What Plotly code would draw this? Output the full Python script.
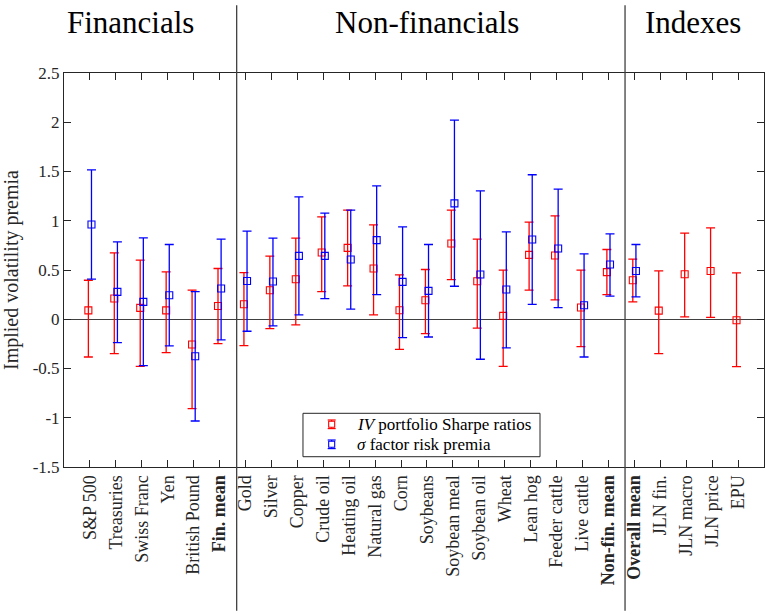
import plotly.graph_objects as go

# Asset / index names along the x axis
categories = ["S&P 500", "Treasuries", "Swiss Franc", "Yen", "British Pound", "Fin. mean",
              "Gold", "Silver", "Copper", "Crude oil", "Heating oil", "Natural gas", "Corn",
              "Soybeans", "Soybean meal", "Soybean oil", "Wheat", "Lean hog", "Feeder cattle",
              "Live cattle", "Non-fin. mean", "Overall mean", "JLN fin.", "JLN macro",
              "JLN price", "EPU"]
bold_labels = {"Fin. mean", "Non-fin. mean", "Overall mean"}

# IV portfolio Sharpe ratios: point estimate and upper / lower interval ends
iv_mid = [0.09, 0.21, 0.115, 0.09, -0.257, 0.135, 0.152, 0.295, 0.406, 0.678, 0.725, 0.515, 0.091,
          0.193, 0.769, 0.386, 0.034, 0.654, 0.647, 0.119, 0.478, 0.396, 0.088, 0.457, 0.49, -0.01]
iv_hi = [0.396, 0.674, 0.6, 0.481, 0.295, 0.515, 0.474, 0.64, 0.823, 1.04, 1.108, 0.959, 0.45,
         0.505, 1.108, 0.813, 0.498, 0.986, 1.05, 0.498, 0.708, 0.61, 0.491, 0.874, 0.928, 0.471]
iv_lo = [-0.383, -0.349, -0.478, -0.339, -0.908, -0.247, -0.268, -0.095, -0.058, 0.281, 0.339, 0.044,
         -0.305, -0.146, 0.403, -0.091, -0.478, 0.295, 0.196, -0.278, 0.251, 0.176, -0.349, 0.024,
         0.02, -0.481]

# sigma factor risk premia (not available for the indexes)
sig_mid = [0.962, 0.278, 0.176, 0.244, -0.376, 0.312, 0.389, 0.383, 0.643, 0.643, 0.606, 0.803,
           0.379, 0.288, 1.176, 0.454, 0.302, 0.81, 0.718, 0.142, 0.556, 0.49]
sig_hi = [1.517, 0.786, 0.826, 0.759, 0.281, 0.813, 0.894, 0.823, 1.243, 1.077, 1.108, 1.355,
          0.938, 0.759, 2.022, 1.304, 0.888, 1.467, 1.321, 0.664, 0.867, 0.759]
sig_lo = [0.408, -0.237, -0.471, -0.271, -1.033, -0.21, -0.122, -0.068, 0.044, 0.21, 0.102, 0.251,
          -0.186, -0.18, 0.335, -0.406, -0.291, 0.152, 0.119, -0.383, 0.234, 0.227]

y_ticks = [-1.5, -1, -0.5, 0, 0.5, 1, 1.5, 2, 2.5]
y_tick_text = ["-1.5", "-1", "-0.5", "0", "0.5", "1", "1.5", "2", "2.5"]

group_titles = ["Financials", "Non-financials", "Indexes"]
legend_labels = ["<i>IV</i> portfolio Sharpe ratios", "<i>σ</i> factor risk premia"]

FONT = "Liberation Serif, Times New Roman, DejaVu Serif, serif"
AXIS = "#262626"
RED = "#ff0000"
BLUE = "#0000ff"

pos = list(range(1, len(categories) + 1))
shift = 0.06

fig = go.Figure()

fig.add_trace(go.Scatter(
    x=[p - shift for p in pos], y=iv_mid, mode="markers",
    name=legend_labels[0], showlegend=False,
    marker=dict(symbol="square-open", size=7, color=RED, line=dict(width=1.1, color=RED)),
    error_y=dict(type="data", symmetric=False,
                 array=[h - m for h, m in zip(iv_hi, iv_mid)],
                 arrayminus=[m - l for m, l in zip(iv_mid, iv_lo)],
                 color=RED, thickness=1.3, width=4.5),
))

fig.add_trace(go.Scatter(
    x=[p + shift for p in pos[:len(sig_mid)]], y=sig_mid, mode="markers",
    name=legend_labels[1], showlegend=False,
    marker=dict(symbol="square-open", size=7, color=BLUE, line=dict(width=1.1, color=BLUE)),
    error_y=dict(type="data", symmetric=False,
                 array=[h - m for h, m in zip(sig_hi, sig_mid)],
                 arrayminus=[m - l for m, l in zip(sig_mid, sig_lo)],
                 color=BLUE, thickness=1.3, width=4.5),
))

tick_text = [f"<b>{c}</b>" if c in bold_labels else c for c in categories]

shapes = []
annotations = []

# group separators running through the whole figure height
for xs in (6.66, 21.64):
    shapes.append(dict(type="line", xref="x", yref="paper", x0=xs, x1=xs, y0=-0.365, y1=1.172,
                       line=dict(color="#404040", width=1.3)))

for title, xc in zip(group_titles, (2.55, 14.0, 24.27)):
    annotations.append(dict(text=title, xref="x", yref="paper", x=xc, y=1.128,
                            xanchor="center", yanchor="middle", showarrow=False,
                            font=dict(family=FONT, size=31, color="black")))

# hand-built legend box with error-bar glyphs
shapes.append(dict(type="rect", xref="paper", yref="paper", x0=0.3414, x1=0.68, y0=0.0261, y1=0.1363,
                   fillcolor="white", line=dict(color="#262626", width=1)))
gx = 0.3824
dx_cap, dy_bar = 0.0057, 0.0109
dx_sq, dy_sq = 0.0043, 0.0076
for row_y, col, label in zip((0.1084, 0.0576), (RED, BLUE), legend_labels):
    shapes.append(dict(type="line", xref="paper", yref="paper", x0=gx, x1=gx,
                       y0=row_y - dy_bar, y1=row_y + dy_bar, line=dict(color=col, width=1.2)))
    for yy in (row_y - dy_bar, row_y + dy_bar):
        shapes.append(dict(type="line", xref="paper", yref="paper", x0=gx - dx_cap, x1=gx + dx_cap,
                           y0=yy, y1=yy, line=dict(color=col, width=1.2)))
    shapes.append(dict(type="rect", xref="paper", yref="paper", x0=gx - dx_sq, x1=gx + dx_sq,
                       y0=row_y - dy_sq, y1=row_y + dy_sq, fillcolor="white",
                       line=dict(color=col, width=1.1)))
    annotations.append(dict(text=label, xref="paper", yref="paper", x=0.4157, y=row_y,
                            xanchor="left", yanchor="middle", showarrow=False,
                            font=dict(family=FONT, size=17, color="black")))

fig.update_layout(
    width=765, height=614,
    margin=dict(l=64, r=1, t=73, b=147),
    paper_bgcolor="white", plot_bgcolor="white",
    font=dict(family=FONT, size=16, color=AXIS),
    showlegend=False,
    shapes=shapes,
    annotations=annotations,
)

fig.update_xaxes(
    range=[0, 27], tickvals=pos, ticktext=tick_text, tickangle=-90,
    ticks="inside", ticklen=7, tickcolor=AXIS, tickwidth=1,
    showline=True, linecolor=AXIS, linewidth=1, mirror="ticks",
    showgrid=False, zeroline=False,
    tickfont=dict(family=FONT, size=18, color=AXIS),
)
fig.update_yaxes(
    range=[-1.5, 2.5], tickvals=y_ticks, ticktext=y_tick_text,
    ticks="inside", ticklen=7, tickcolor=AXIS, tickwidth=1,
    showline=True, linecolor=AXIS, linewidth=1, mirror="ticks",
    showgrid=False, zeroline=True, zerolinecolor="#404040", zerolinewidth=1.2,
    tickfont=dict(family=FONT, size=17, color=AXIS),
    title=dict(text="Implied volatility premia", font=dict(family=FONT, size=20, color=AXIS),
               standoff=8),
)

fig.write_html("out.html")
